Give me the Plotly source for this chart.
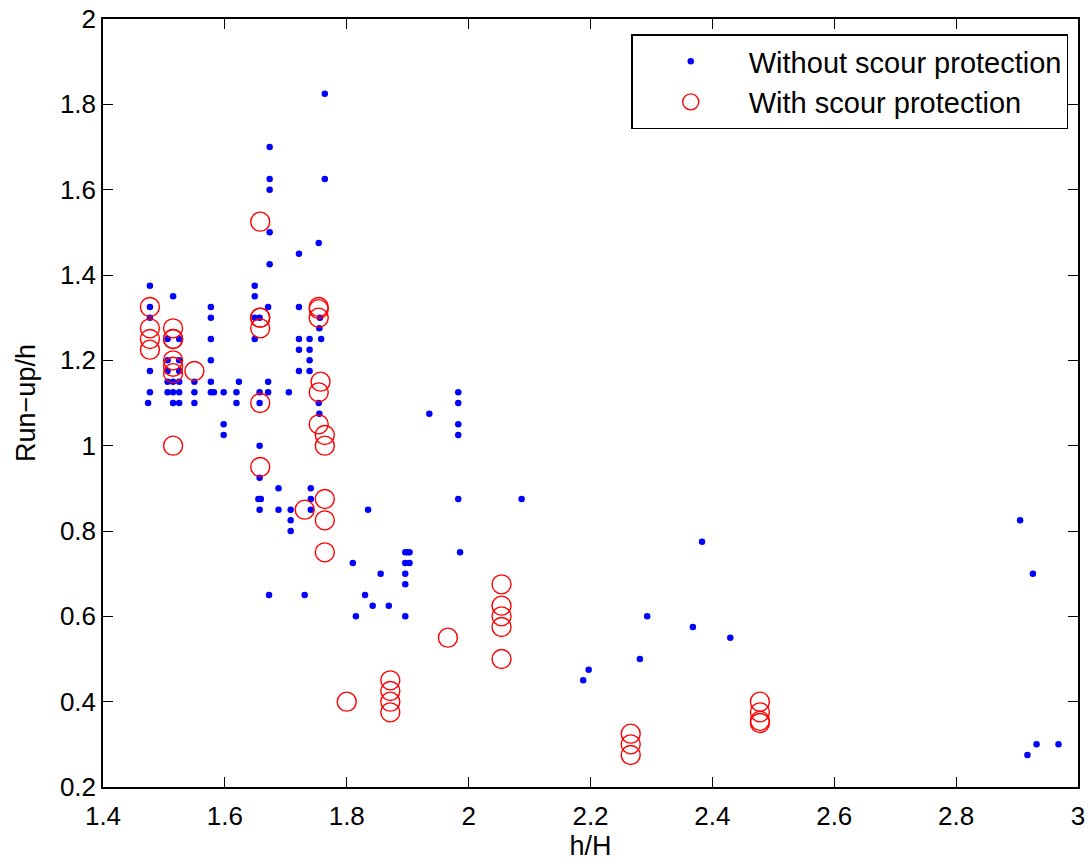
import plotly.graph_objects as go

# ---- data: Without scour protection (blue dots) ----
without_x = [
    1.477, 1.477, 1.477, 1.477, 1.477, 1.474,
    1.515, 1.506, 1.525, 1.506, 1.525, 1.506, 1.525,
    1.506, 1.515, 1.525, 1.506, 1.515, 1.525, 1.515, 1.525,
    1.55, 1.55, 1.55,
    1.577, 1.577, 1.577, 1.577, 1.577, 1.577, 1.582,
    1.598, 1.598, 1.598,
    1.623, 1.619, 1.619,
    1.649, 1.649, 1.649, 1.649,
    1.657, 1.657, 1.657, 1.657, 1.657, 1.655, 1.659, 1.657,
    1.671, 1.671, 1.671,
    1.6735, 1.6735, 1.6735, 1.6735, 1.6735, 1.6724,
    1.688, 1.688, 1.705, 1.708, 1.708, 1.708,
    1.7216, 1.7216, 1.7216, 1.7216, 1.7216, 1.731,
    1.739, 1.739, 1.739, 1.739, 1.741, 1.741, 1.741,
    1.754, 1.756, 1.755, 1.754, 1.755, 1.758, 1.764, 1.764,
    1.810, 1.815, 1.830, 1.835, 1.8425, 1.8556, 1.869,
    1.896, 1.896, 1.896, 1.896, 1.896, 1.900, 1.903, 1.903,
    1.9355, 1.983, 1.983, 1.983, 1.983, 1.983, 1.986,
    2.087, 2.188, 2.197, 2.281, 2.293, 2.368, 2.383, 2.4294,
    2.905, 2.926, 2.917, 2.932, 2.968,
]
without_y = [
    1.375, 1.325, 1.30, 1.175, 1.125, 1.10,
    1.35, 1.25, 1.25, 1.20, 1.20, 1.175, 1.175,
    1.15, 1.15, 1.15, 1.125, 1.125, 1.125, 1.10, 1.10,
    1.15, 1.125, 1.10,
    1.325, 1.30, 1.25, 1.20, 1.15, 1.125, 1.125,
    1.125, 1.05, 1.025,
    1.15, 1.125, 1.10,
    1.375, 1.35, 1.25, 1.30,
    1.30, 1.125, 1.10, 1.0, 0.925, 0.875, 0.875, 0.85,
    1.325, 1.15, 1.125,
    1.70, 1.625, 1.60, 1.50, 1.425, 0.65,
    0.90, 0.85, 1.125, 0.85, 0.825, 0.80,
    1.45, 1.325, 1.25, 1.225, 1.175, 0.65,
    1.25, 1.225, 1.20, 1.175, 0.90, 0.875, 0.85,
    1.475, 1.30, 1.275, 1.10, 1.075, 1.25, 1.825, 1.625,
    0.725, 0.60, 0.65, 0.85, 0.625, 0.70, 0.625,
    0.75, 0.725, 0.70, 0.675, 0.60, 0.75, 0.75, 0.725,
    1.075, 1.125, 1.10, 1.05, 1.025, 0.875, 0.75,
    0.875, 0.45, 0.475, 0.50, 0.60, 0.575, 0.775, 0.55,
    0.825, 0.70, 0.275, 0.30, 0.30,
]

# ---- data: With scour protection (red open circles) ----
with_x = [
    1.477, 1.477, 1.477, 1.477,
    1.515, 1.515, 1.515, 1.515, 1.515, 1.515, 1.515,
    1.55,
    1.658, 1.658, 1.658, 1.658, 1.658, 1.658,
    1.731,
    1.754, 1.754, 1.754, 1.754, 1.754, 1.757,
    1.764, 1.764, 1.764, 1.764, 1.764,
    1.80,
    1.8715, 1.8715, 1.8715, 1.8715,
    1.966,
    2.054, 2.054, 2.054, 2.054, 2.054,
    2.266, 2.266, 2.266,
    2.478, 2.478, 2.478, 2.478,
]
with_y = [
    1.325, 1.275, 1.25, 1.225,
    1.275, 1.25, 1.25, 1.20, 1.185, 1.17, 1.0,
    1.175,
    1.525, 1.30, 1.30, 1.275, 1.10, 0.95,
    0.85,
    1.325, 1.32, 1.30, 1.125, 1.05, 1.15,
    1.025, 1.0, 0.875, 0.825, 0.75,
    0.40,
    0.45, 0.425, 0.40, 0.375,
    0.55,
    0.675, 0.625, 0.60, 0.575, 0.50,
    0.325, 0.30, 0.275,
    0.40, 0.375, 0.355, 0.35,
]

x_ticks = [1.4, 1.6, 1.8, 2.0, 2.2, 2.4, 2.6, 2.8, 3.0]
x_ticktext = ["1.4", "1.6", "1.8", "2", "2.2", "2.4", "2.6", "2.8", "3"]
y_ticks = [0.2, 0.4, 0.6, 0.8, 1.0, 1.2, 1.4, 1.6, 1.8, 2.0]
y_ticktext = ["0.2", "0.4", "0.6", "0.8", "1", "1.2", "1.4", "1.6", "1.8", "2"]

FONT = "Liberation Sans, Arial, Helvetica, sans-serif"

fig = go.Figure()
fig.add_trace(go.Scatter(
    x=without_x, y=without_y, mode="markers", name="Without scour protection",
    marker=dict(symbol="circle", size=6.5, color="rgb(0,0,255)", line=dict(width=0)),
))
fig.add_trace(go.Scatter(
    x=with_x, y=with_y, mode="markers", name="With scour protection",
    marker=dict(symbol="circle-open", size=19, color="rgb(255,0,0)",
                line=dict(width=1.4, color="rgb(255,0,0)")),
))

axis_common = dict(
    showgrid=False, zeroline=False, showline=True, linecolor="black", linewidth=1.5,
    mirror="allticks", ticks="inside", ticklen=10, tickwidth=1, tickcolor="black",
    tickfont=dict(family=FONT, size=26, color="black"), automargin=False,
)

fig.update_layout(
    template="none",
    width=1091, height=864,
    paper_bgcolor="white", plot_bgcolor="white",
    margin=dict(l=103, r=13, t=19, b=77, pad=0),
    font=dict(family=FONT, size=26, color="black"),
    xaxis=dict(range=[1.4, 3.0], tickvals=x_ticks, ticktext=x_ticktext,
               ticklabelstandoff=5,
               title=dict(text="h/H", font=dict(family=FONT, size=27), standoff=2),
               **axis_common),
    yaxis=dict(range=[0.2, 2.0], tickvals=y_ticks, ticktext=y_ticktext,
               title=dict(text="Run\u2212up/h", font=dict(family=FONT, size=27), standoff=16),
               **axis_common),
    legend=dict(x=0.99, y=0.98, xanchor="right", yanchor="top",
                bgcolor="white", bordercolor="black", borderwidth=1.5,
                font=dict(family=FONT, size=29, color="black"),
                itemwidth=106, tracegroupgap=0),
    showlegend=True,
)

fig.write_html(
    "out.html",
    config={"displayModeBar": False},
    post_script="document.body.style.margin='0px';document.body.style.overflow='hidden';",
)
